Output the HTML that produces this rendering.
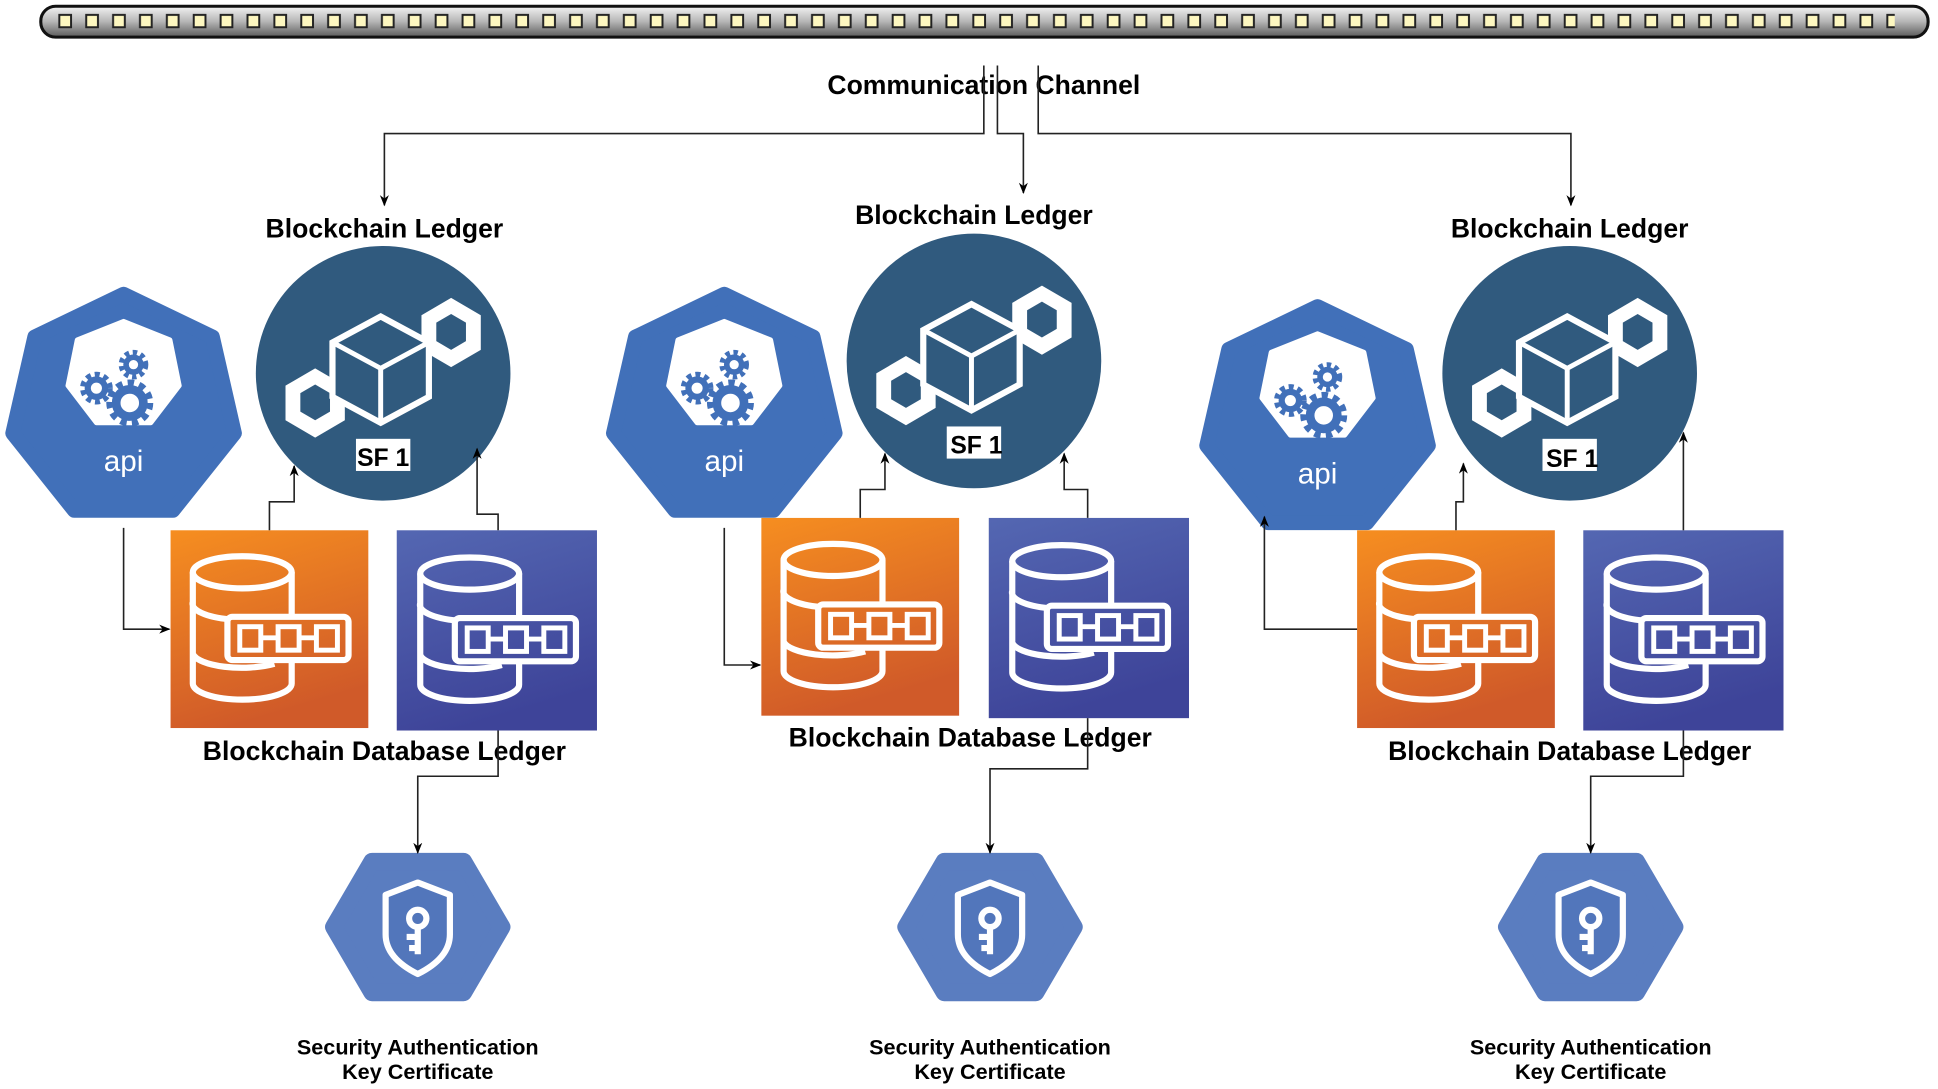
<!DOCTYPE html>
<html><head><meta charset="utf-8"><style>
html,body{margin:0;padding:0;background:#fff;}
svg{display:block;}
text{font-family:"Liberation Sans",Arial,sans-serif;font-weight:bold;}
</style></head><body>
<svg width="1938" height="1089" viewBox="0 0 1568 881" xmlns="http://www.w3.org/2000/svg">
<defs>
<linearGradient id="bar" x1="0" y1="0" x2="0" y2="1">
<stop offset="0" stop-color="#f4f4f4"/><stop offset="0.5" stop-color="#b5b5b5"/><stop offset="1" stop-color="#5a5a5a"/></linearGradient>
<pattern id="sq" x="47" y="0" width="21.75" height="40" patternUnits="userSpaceOnUse">
<rect x="1" y="12" width="9.5" height="10" fill="#fdf7c0" stroke="#222" stroke-width="1.6"/></pattern>
<linearGradient id="og" x1="0" y1="0" x2="0.3" y2="1"><stop offset="0" stop-color="#f68e20"/><stop offset="1" stop-color="#d05a29"/></linearGradient>
<linearGradient id="bg" x1="0" y1="0" x2="0.3" y2="1"><stop offset="0" stop-color="#5467b2"/><stop offset="1" stop-color="#3e4499"/></linearGradient>
<marker id="ar" viewBox="0 0 10 10" refX="9" refY="5" markerWidth="7" markerHeight="7" orient="auto"><path d="M0,1 L10,5 L0,9 L3,5 Z" fill="#000"/></marker>
<g id="api">
<polygon points="0,-92 71.9,-57.4 89.7,20.5 39.9,82.9 -39.9,82.9 -89.7,20.5 -71.9,-57.4" fill="#4170b9" stroke="#4170b9" stroke-width="12" stroke-linejoin="round"/>
<polygon transform="translate(0,-30)" points="0,-40 37.5,-25 45,12 22,42 -22,42 -45,12 -37.5,-25" fill="#fff" stroke="#fff" stroke-width="4" stroke-linejoin="round"/>
<circle cx="5" cy="-4" r="11" fill="none" stroke="#4170b9" stroke-width="7"/>
<circle cx="5" cy="-4" r="16" fill="none" stroke="#4170b9" stroke-width="6" stroke-dasharray="5 4.2"/>
<circle cx="-22" cy="-16" r="7" fill="none" stroke="#4170b9" stroke-width="5"/>
<circle cx="-22" cy="-16" r="11" fill="none" stroke="#4170b9" stroke-width="4.5" stroke-dasharray="4 3.2"/>
<circle cx="8" cy="-35" r="6" fill="none" stroke="#4170b9" stroke-width="4.5"/>
<circle cx="8" cy="-35" r="10" fill="none" stroke="#4170b9" stroke-width="4" stroke-dasharray="3.6 3"/>
</g>
<g id="led">
<circle r="103" fill="#305a7e"/>
<polygon points="55,-61 79,-47 79,-19 55,-5 31,-19 31,-47" fill="#fff"/>
<polygon points="55,-48 67,-41 67,-26 55,-19 43,-26 43,-41" fill="#305a7e"/>
<polygon points="-55,-4 -31,10 -31,38 -55,52 -79,38 -79,10" fill="#fff"/>
<polygon points="-55,9 -43,16 -43,31 -55,38 -67,31 -67,16" fill="#305a7e"/>
<polygon points="-2,-46 37,-25 37,19 -2,40 -41,19 -41,-25" fill="#305a7e" stroke="#fff" stroke-width="5" stroke-linejoin="miter"/>
<polyline points="-39,-24 -2,-4 35,-24" fill="none" stroke="#fff" stroke-width="4"/>
<line x1="-2" y1="-4" x2="-2" y2="38" stroke="#fff" stroke-width="4"/>
<rect x="-22" y="53" width="44" height="26" fill="#fff"/>
</g>
<g id="cyl">
<ellipse cx="58" cy="34" rx="40" ry="13" fill="none" stroke="#fff" stroke-width="5"/>
<path d="M18,34 V124 A40,13 0 0 0 98,124 V105 M18,58 A40,13 0 0 0 48,72 M18,100 A40,13 0 0 0 84,108 M98,34 V70" fill="none" stroke="#fff" stroke-width="5"/>
<rect x="46" y="70" width="98" height="35" rx="4" fill="none" stroke="#fff" stroke-width="5"/>
<rect x="56" y="78" width="17" height="19" fill="none" stroke="#fff" stroke-width="4"/>
<rect x="87" y="78" width="17" height="19" fill="none" stroke="#fff" stroke-width="4"/>
<rect x="118" y="78" width="17" height="19" fill="none" stroke="#fff" stroke-width="4"/>
<path d="M73,87 H87 M104,87 H118" stroke="#fff" stroke-width="4"/>
</g>
<g id="sec">
<polygon points="-68,0 -37,-53 37,-53 68,0 37,53 -37,53" fill="#5a7dc0" stroke="#5a7dc0" stroke-width="14" stroke-linejoin="round"/>
<path d="M0,-36 L26,-26 V6 C26,22 12,32 0,38 C-12,32 -26,22 -26,6 V-26 Z" fill="#5276bb" stroke="#fff" stroke-width="5" stroke-linejoin="round"/>
<circle cx="0" cy="-7" r="7" fill="none" stroke="#fff" stroke-width="5"/>
<path d="M0,0 V22 M0,8 H-9 M0,17 H-7" stroke="#fff" stroke-width="5"/>
</g>
</defs>

<rect x="33" y="5" width="1527" height="25" rx="12" fill="url(#bar)" stroke="#111" stroke-width="2.5"/>
<rect x="40" y="5" width="1493" height="25" fill="url(#sq)"/>
<text x="796" y="76" font-size="21.5" text-anchor="middle">Communication Channel</text>

<g fill="none" stroke="#222" stroke-width="1.3" marker-end="url(#ar)">
<polyline points="796,53 796,108 311,108 311,166"/>
<polyline points="807,53 807,108 828,108 828,156"/>
<polyline points="840,53 840,108 1271,108 1271,166"/>
</g>

<!-- group 1 -->
<text x="311" y="192" font-size="21.5" text-anchor="middle">Blockchain Ledger</text>
<use href="#api" x="100" y="330"/>
<text x="100" y="381" font-size="24" fill="#fff" text-anchor="middle" style="font-weight:normal">api</text>
<use href="#led" x="310" y="302"/>
<text x="310" y="377" font-size="20" text-anchor="middle">SF 1</text>
<rect x="138" y="429" width="160" height="160" fill="url(#og)"/>
<use href="#cyl" x="138" y="429"/>
<rect x="321" y="429" width="162" height="162" fill="url(#bg)"/>
<use href="#cyl" x="322" y="430"/>
<text x="311" y="615" font-size="21.5" text-anchor="middle">Blockchain Database Ledger</text>
<use href="#sec" x="338" y="750"/>
<text x="338" y="853" font-size="17.5" text-anchor="middle">Security Authentication</text>
<text x="338" y="873" font-size="17.5" text-anchor="middle">Key Certificate</text>
<g fill="none" stroke="#222" stroke-width="1.3" marker-end="url(#ar)">
<polyline points="100,427 100,509 137,509"/>
<polyline points="218,429 218,406 238,406 238,377"/>
<polyline points="403,429 403,416 386,416 386,363"/>
<polyline points="403,591 403,628 338,628 338,690"/>
</g>

<!-- group 2 -->
<text x="788" y="181" font-size="21.5" text-anchor="middle">Blockchain Ledger</text>
<use href="#api" x="586" y="330"/>
<text x="586" y="381" font-size="24" fill="#fff" text-anchor="middle" style="font-weight:normal">api</text>
<use href="#led" x="788" y="292"/>
<text x="790" y="367" font-size="20" text-anchor="middle">SF 1</text>
<rect x="616" y="419" width="160" height="160" fill="url(#og)"/>
<use href="#cyl" x="616" y="419"/>
<rect x="800" y="419" width="162" height="162" fill="url(#bg)"/>
<use href="#cyl" x="801" y="420"/>
<text x="785" y="604" font-size="21.5" text-anchor="middle">Blockchain Database Ledger</text>
<use href="#sec" x="801" y="750"/>
<text x="801" y="853" font-size="17.5" text-anchor="middle">Security Authentication</text>
<text x="801" y="873" font-size="17.5" text-anchor="middle">Key Certificate</text>
<g fill="none" stroke="#222" stroke-width="1.3" marker-end="url(#ar)">
<polyline points="586,427 586,538 615,538"/>
<polyline points="696,419 696,396 716,396 716,367"/>
<polyline points="880,419 880,396 861,396 861,367"/>
<polyline points="880,581 880,622 801,622 801,690"/>
</g>

<!-- group 3 -->
<text x="1270" y="192" font-size="21.5" text-anchor="middle">Blockchain Ledger</text>
<use href="#api" x="1066" y="340"/>
<text x="1066" y="391" font-size="24" fill="#fff" text-anchor="middle" style="font-weight:normal">api</text>
<use href="#led" x="1270" y="302"/>
<text x="1272" y="378" font-size="20" text-anchor="middle">SF 1</text>
<rect x="1098" y="429" width="160" height="160" fill="url(#og)"/>
<use href="#cyl" x="1098" y="429"/>
<rect x="1281" y="429" width="162" height="162" fill="url(#bg)"/>
<use href="#cyl" x="1282" y="430"/>
<text x="1270" y="615" font-size="21.5" text-anchor="middle">Blockchain Database Ledger</text>
<use href="#sec" x="1287" y="750"/>
<text x="1287" y="853" font-size="17.5" text-anchor="middle">Security Authentication</text>
<text x="1287" y="873" font-size="17.5" text-anchor="middle">Key Certificate</text>
<g fill="none" stroke="#222" stroke-width="1.3" marker-end="url(#ar)">
<polyline points="1098,509 1023,509 1023,418"/>
<polyline points="1178,429 1178,406 1184,406 1184,375"/>
<polyline points="1362,429 1362,350"/>
<polyline points="1362,591 1362,628 1287,628 1287,690"/>
</g>
</svg>
</body></html>
